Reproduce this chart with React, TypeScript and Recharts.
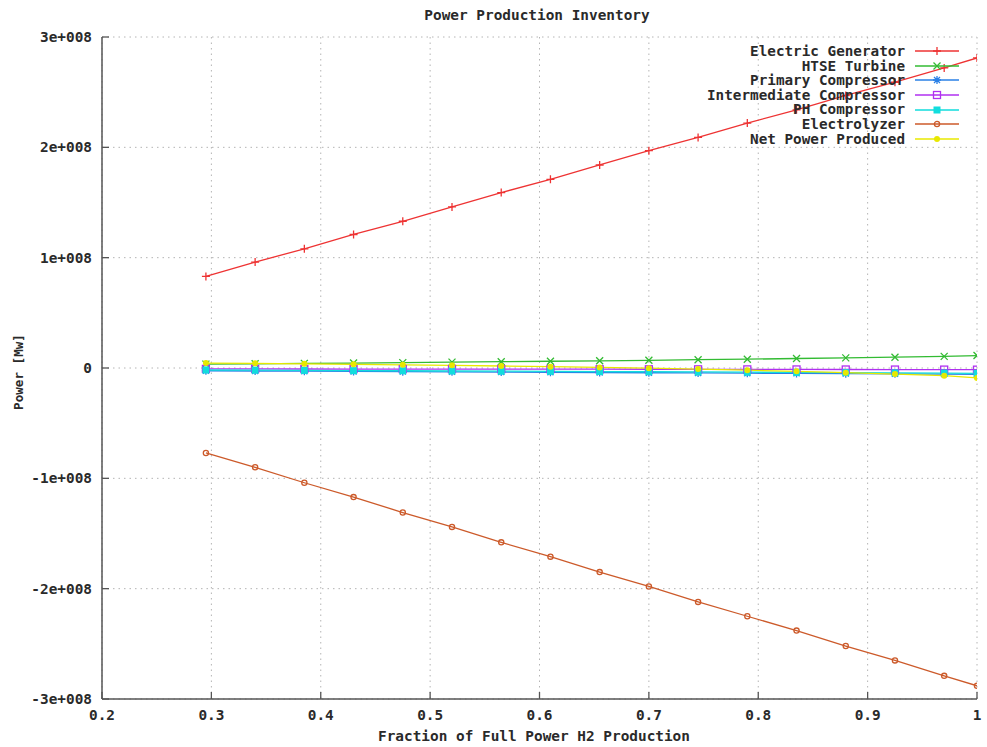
import React from 'react';
import { LineChart, Line, XAxis, YAxis, CartesianGrid } from 'recharts';

// fraction of full power H2 production (x)
const fraction = [0.295, 0.34, 0.385, 0.43, 0.475, 0.52, 0.565, 0.61, 0.655, 0.7, 0.745, 0.79, 0.835, 0.88, 0.925, 0.97, 1.0];

// power per component [Mw]
const electricGenerator = [83e6, 96e6, 108e6, 121e6, 133e6, 146e6, 159e6, 171e6, 184e6, 197e6, 209e6, 222e6, 234e6, 247e6, 259e6, 272e6, 281e6];
const htseTurbine = [3.5e6, 3.8e6, 4.2e6, 4.5e6, 4.9e6, 5.3e6, 5.7e6, 6.1e6, 6.5e6, 7e6, 7.5e6, 8e6, 8.6e6, 9.2e6, 9.8e6, 10.5e6, 11.3e6];
const primaryCompressor = [-2.5e6, -2.7e6, -2.9e6, -3.1e6, -3.3e6, -3.5e6, -3.7e6, -3.9e6, -4.1e6, -4.3e6, -4.5e6, -4.7e6, -4.9e6, -5.1e6, -5.3e6, -5.5e6, -5.7e6];
const intermediateCompressor = [-0.8e6, -0.85e6, -0.9e6, -0.95e6, -1e6, -1e6, -1.05e6, -1.1e6, -1.1e6, -1.15e6, -1.2e6, -1.25e6, -1.3e6, -1.35e6, -1.4e6, -1.45e6, -1.5e6];
const phCompressor = [-1.8e6, -2e6, -2.2e6, -2.4e6, -2.5e6, -2.7e6, -2.9e6, -3e6, -3.2e6, -3.4e6, -3.6e6, -3.8e6, -4e6, -4.2e6, -4.4e6, -4.6e6, -4.8e6];
const electrolyzer = [-77e6, -90e6, -104e6, -117e6, -131e6, -144e6, -158e6, -171e6, -185e6, -198e6, -212e6, -225e6, -238e6, -252e6, -265e6, -279e6, -288e6];
const netPower = [4.5e6, 4.2e6, 3.8e6, 3.3e6, 2.9e6, 2.4e6, 1.8e6, 1.2e6, 0.5e6, -0.2e6, -1e6, -2e6, -3e6, -4.2e6, -5.5e6, -7e6, -9e6];

const xTicks = [0.2, 0.3, 0.4, 0.5, 0.6, 0.7, 0.8, 0.9, 1];
const yTicks = [-3e8, -2e8, -1e8, 0, 1e8, 2e8, 3e8];

const series = [
  { key: 'gen', name: 'Electric Generator', color: '#ee3333', shape: 'plus', values: electricGenerator },
  { key: 'htse', name: 'HTSE Turbine', color: '#33bb33', shape: 'cross', values: htseTurbine },
  { key: 'prim', name: 'Primary Compressor', color: '#2a80e6', shape: 'star', values: primaryCompressor },
  { key: 'inter', name: 'Intermediate Compressor', color: '#b030f0', shape: 'box', values: intermediateCompressor },
  { key: 'ph', name: 'PH Compressor', color: '#11dddd', shape: 'boxf', values: phCompressor },
  { key: 'elec', name: 'Electrolyzer', color: '#cc5a2a', shape: 'circle', values: electrolyzer },
  { key: 'net', name: 'Net Power Produced', color: '#e8e800', shape: 'circlef', values: netPower },
];

const rows = fraction.map((x, i) => {
  const r: Record<string, number> = { x };
  series.forEach((s) => { r[s.key] = s.values[i]; });
  return r;
});

const FONT = '"DejaVu Sans Mono", "Liberation Mono", monospace';
const INK = '#2a2a2a';
const BORDER = '#555';

const fmtY = (v: number) => (v === 0 ? '0' : `${v / 1e8}e+008`);

function Mark({ shape, cx, cy, color }: { shape: string; cx: number; cy: number; color: string }) {
  const s = 4;
  const sw = 1.3;
  if (cx == null || cy == null) return null;
  switch (shape) {
    case 'plus':
      return <path d={`M${cx - s},${cy}H${cx + s}M${cx},${cy - s}V${cy + s}`} stroke={color} strokeWidth={sw} fill="none" />;
    case 'cross':
      return <path d={`M${cx - 3.5},${cy - 3.5}L${cx + 3.5},${cy + 3.5}M${cx - 3.5},${cy + 3.5}L${cx + 3.5},${cy - 3.5}`} stroke={color} strokeWidth={sw} fill="none" />;
    case 'star':
      return <path d={`M${cx - s},${cy}H${cx + s}M${cx},${cy - s}V${cy + s}M${cx - 3},${cy - 3}L${cx + 3},${cy + 3}M${cx - 3},${cy + 3}L${cx + 3},${cy - 3}`} stroke={color} strokeWidth={sw} fill="none" />;
    case 'box':
      return <rect x={cx - 3.5} y={cy - 3.5} width={7} height={7} stroke={color} strokeWidth={sw} fill="none" />;
    case 'boxf':
      return <rect x={cx - 3.5} y={cy - 3.5} width={7} height={7} fill={color} />;
    case 'circle':
      return <circle cx={cx} cy={cy} r={2.6} stroke={color} strokeWidth={sw} fill="none" />;
    default:
      return <circle cx={cx} cy={cy} r={3} fill={color} />;
  }
}

function BottomTick({ x, y, payload }: any) {
  return (
    <g>
      <line x1={x} x2={x} y1={y} y2={y - 7} stroke={BORDER} strokeWidth={1.3} />
      <text x={x} y={y + 21} textAnchor="middle" fontFamily={FONT} fontWeight="bold" fontSize={14.4} fill={INK}>{String(payload.value)}</text>
    </g>
  );
}

function TopTick({ x, y }: any) {
  return <line x1={x} x2={x} y1={y} y2={y + 7} stroke={BORDER} strokeWidth={1.3} />;
}

function LeftTick({ x, y, payload }: any) {
  return (
    <g>
      <line x1={x} x2={x + 7} y1={y} y2={y} stroke={BORDER} strokeWidth={1.3} />
      <text x={x - 10} y={y + 5} textAnchor="end" fontFamily={FONT} fontWeight="bold" fontSize={14.4} fill={INK}>{fmtY(payload.value)}</text>
    </g>
  );
}

function RightTick({ x, y }: any) {
  return <line x1={x} x2={x - 7} y1={y} y2={y} stroke={BORDER} strokeWidth={1.3} />;
}

function LegendBox() {
  return (
    <div style={{ position: 'absolute', top: 44, right: 28, fontFamily: FONT, fontWeight: 'bold', fontSize: 14.3, color: INK }}>
      {series.map((s) => (
        <div key={s.key} style={{ height: 14.6, display: 'flex', alignItems: 'center', justifyContent: 'flex-end', whiteSpace: 'pre' }}>
          <span style={{ lineHeight: '14.6px' }}>{s.name}</span>
          <svg width={44} height={14} style={{ marginLeft: 10, display: 'block' }}>
            <line x1={0} x2={44} y1={7} y2={7} stroke={s.color} strokeWidth={1.3} />
            <Mark shape={s.shape} cx={22} cy={7} color={s.color} />
          </svg>
        </div>
      ))}
    </div>
  );
}

const textStyle = { position: 'absolute' as const, fontFamily: FONT, fontWeight: 'bold' as const, color: INK, whiteSpace: 'pre' as const };

export default function App() {
  return (
    <div style={{ position: 'absolute', top: 0, left: 0, width: 987, height: 747, background: '#fff' }}>
      <LineChart width={987} height={747} data={rows} margin={{ top: 37, right: 10, left: 0, bottom: 0 }}>
        <CartesianGrid xAxisId="b" yAxisId="l" stroke="#b4b4b4" strokeDasharray="1.5 4" horizontalValues={yTicks} verticalValues={xTicks} />
        <XAxis xAxisId="b" dataKey="x" type="number" domain={[0.2, 1]} ticks={xTicks} interval={0} height={48}
          axisLine={{ stroke: BORDER, strokeWidth: 1.5 }} tickLine={false} tickSize={0} tickMargin={0} tick={<BottomTick />} allowDataOverflow />
        <XAxis xAxisId="t" dataKey="x" type="number" orientation="top" domain={[0.2, 1]} ticks={xTicks} interval={0} height={0}
          axisLine={{ stroke: BORDER, strokeWidth: 1.5 }} tickLine={false} tickSize={0} tickMargin={0} tick={<TopTick />} allowDataOverflow />
        <YAxis yAxisId="l" type="number" domain={[-3e8, 3e8]} ticks={yTicks} interval={0} width={102}
          axisLine={{ stroke: BORDER, strokeWidth: 1.5 }} tickLine={false} tickSize={0} tickMargin={0} tick={<LeftTick />} allowDataOverflow />
        <YAxis yAxisId="r" type="number" orientation="right" domain={[-3e8, 3e8]} ticks={yTicks} interval={0} width={0}
          axisLine={{ stroke: BORDER, strokeWidth: 1.5 }} tickLine={false} tickSize={0} tickMargin={0} tick={<RightTick />} allowDataOverflow />
        {series.map((s) => (
          <Line key={s.key} xAxisId="b" yAxisId="l" type="linear" dataKey={s.key} name={s.name} stroke={s.color} strokeWidth={1.3}
            isAnimationActive={false} activeDot={false}
            dot={(p: any) => <Mark key={`${s.key}-${p.index}`} shape={s.shape} cx={p.cx} cy={p.cy} color={s.color} />} />
        ))}
      </LineChart>
      <LegendBox />
      <div style={{ ...textStyle, left: 537, top: 15, transform: 'translate(-50%, -50%)', fontSize: 14.4 }}>
        Power Production Inventory
      </div>
      <div style={{ ...textStyle, left: 534, top: 736, transform: 'translate(-50%, -50%)', fontSize: 14.4 }}>
        Fraction of Full Power H2 Production
      </div>
      <div style={{ ...textStyle, left: 18, top: 372, transform: 'translate(-50%, -50%) rotate(-90deg)', fontSize: 12.6 }}>
        Power [Mw]
      </div>
    </div>
  );
}
